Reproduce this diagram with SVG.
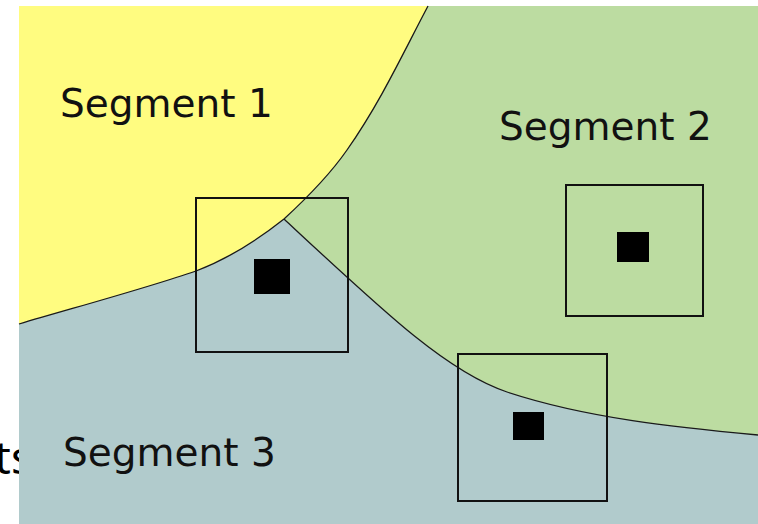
<svg xmlns="http://www.w3.org/2000/svg" width="758" height="524" viewBox="0 0 758 524">
  <style>
    .label { font-family: "DejaVu Sans", Verdana, sans-serif; font-size: 39px; fill: #111; }
    .border { fill: none; stroke: #1a1a1a; stroke-width: 1.3; }
    .box { fill: none; stroke: #111; stroke-width: 2; }
    .point { fill: #000; }
  </style>
  <rect x="0" y="0" width="758" height="524" fill="#ffffff"/>
  <!-- partial word behind the map panel -->
  <text x="33" y="474" font-family="'Noto Sans', 'Open Sans', sans-serif" font-size="46" fill="#000" text-anchor="end">ts</text>

  <!-- map panel -->
  <g id="segment-3">
    <rect x="19" y="6" width="739" height="518" fill="#b1cbcc"/>
  </g>
  <g id="segment-1">
    <path d="M19,6 L428,6 C402.6,54 380.6,102 347,150 C331,173 309,196 284,219 C255,242 225,260 196,271 C150,287 80,306 19,324 Z" fill="#fffc80"/>
  </g>
  <g id="segment-2">
    <path d="M428,6 L758,6 L758,435 C678,427.5 587,418.4 507,392 C447,372 384,312 284,219 C309,196 331,173 347,150 C380.6,102 402.6,54 428,6 Z" fill="#bcdca1"/>
  </g>

  <!-- segment boundaries -->
  <g id="boundaries">
    <path class="border" d="M428,6 C402.6,54 380.6,102 347,150 C331,173 309,196 284,219"/>
    <path class="border" d="M19,324 C80,306 150,287 196,271 C225,260 255,242 284,219"/>
    <path class="border" d="M284,219 C384,312 447,372 507,392 C587,418.4 678,427.5 758,435"/>
  </g>

  <!-- labels -->
  <g id="label-1"><text class="label" x="60" y="117">Segment 1</text></g>
  <g id="label-2"><text class="label" x="499" y="140">Segment 2</text></g>
  <g id="label-3"><text class="label" x="63" y="466">Segment 3</text></g>

  <!-- sample points with their windows -->
  <g id="point-a">
    <rect class="box" x="196" y="198" width="152" height="154"/>
    <rect class="point" x="254" y="259" width="36" height="35"/>
  </g>
  <g id="point-b">
    <rect class="box" x="566" y="185" width="137" height="131"/>
    <rect class="point" x="617" y="232" width="32" height="30"/>
  </g>
  <g id="point-c">
    <rect class="box" x="458" y="354" width="149" height="147"/>
    <rect class="point" x="513" y="412" width="31" height="28"/>
  </g>
</svg>
